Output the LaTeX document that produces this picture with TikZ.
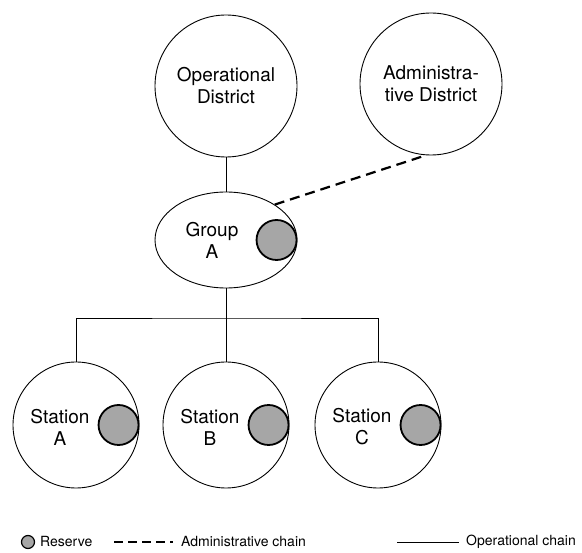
\documentclass[tikz,border=0pt]{standalone}
\usepackage{fontspec}
\setmainfont{TeX Gyre Heros}
\usepackage{tikz}
\usetikzlibrary{shapes.geometric}

\begin{document}
\begin{tikzpicture}[x=1pt,y=-1pt,
    unit/.style={draw,circle,line width=0.9pt,minimum size=142pt,inner sep=0pt,align=center,font=\fontsize{19}{22}\selectfont},
    station/.style={unit,minimum size=126pt},
    grpbox/.style={draw,ellipse,line width=0.9pt,minimum width=142pt,minimum height=96pt,inner sep=0pt},
    lbl/.style={align=center,font=\fontsize{19}{22}\selectfont},
    reserve/.style={draw,circle,line width=1.8pt,fill=black!35,minimum size=40pt,inner sep=0pt,anchor=east},
    legtxt/.style={anchor=west,inner sep=0pt,font=\fontsize{14}{16}\selectfont}]
    \useasboundingbox (0,0) rectangle (582,553);

    % districts
    \node[unit] (opd) at (226,86) {Operational\\District};
    \node[unit] (adm) at (431,84) {Administra-\\tive District};

    % group with its reserve
    \node[grpbox] (grp) at (226,240) {};
    \node[lbl] (grptxt) at (212,240) {Group\\A};
    \node[reserve] (grpres) at (grp.east) {};

    % stations
    \node[station] (sta) at (76,425) {};
    \node[lbl] (statxt) at (60,427) {Station\\A};
    \node[reserve] (stares) at (sta.east) {};
    \node[station] (stb) at (226,425) {};
    \node[lbl] (stbtxt) at (210,427) {Station\\B};
    \node[reserve] (stbres) at (stb.east) {};
    \node[station] (stc) at (378,425) {};
    \node[lbl] (stctxt) at (362,427) {Station\\C};
    \node[reserve] (stcres) at (stc.east) {};

    % chains
    \coordinate (bar) at (226,318);
    \draw[line width=0.9pt] (opd.south) -- (grp.north);
    \draw[line width=0.9pt] (grp.south) -- (bar);
    \draw[line width=0.9pt] (sta.north) |- (bar) -| (stc.north);
    \draw[line width=0.9pt] (bar) -- (stb.north);
    \draw[line width=2.2pt,dash pattern=on 10pt off 6pt] (grp.36) -- (adm.266);

    % legend
    \node[reserve,minimum size=13pt,line width=1.2pt,anchor=center] (legres) at (28,542) {};
    \node[legtxt] (legrestxt) at (40,542) {Reserve};
    \coordinate (adma) at (114,542);
    \coordinate (admb) at (173,542);
    \draw[line width=1.4pt,dash pattern=on 9pt off 5pt] (adma) -- (admb);
    \node[legtxt] (admtxt) at (181,542) {Administrative chain};
    \coordinate (opa) at (397,542);
    \coordinate (opb) at (459,542);
    \draw[line width=0.6pt] (opa) -- (opb);
    \node[legtxt] (optxt) at (466,542) {Operational chain};
\end{tikzpicture}
\end{document}
